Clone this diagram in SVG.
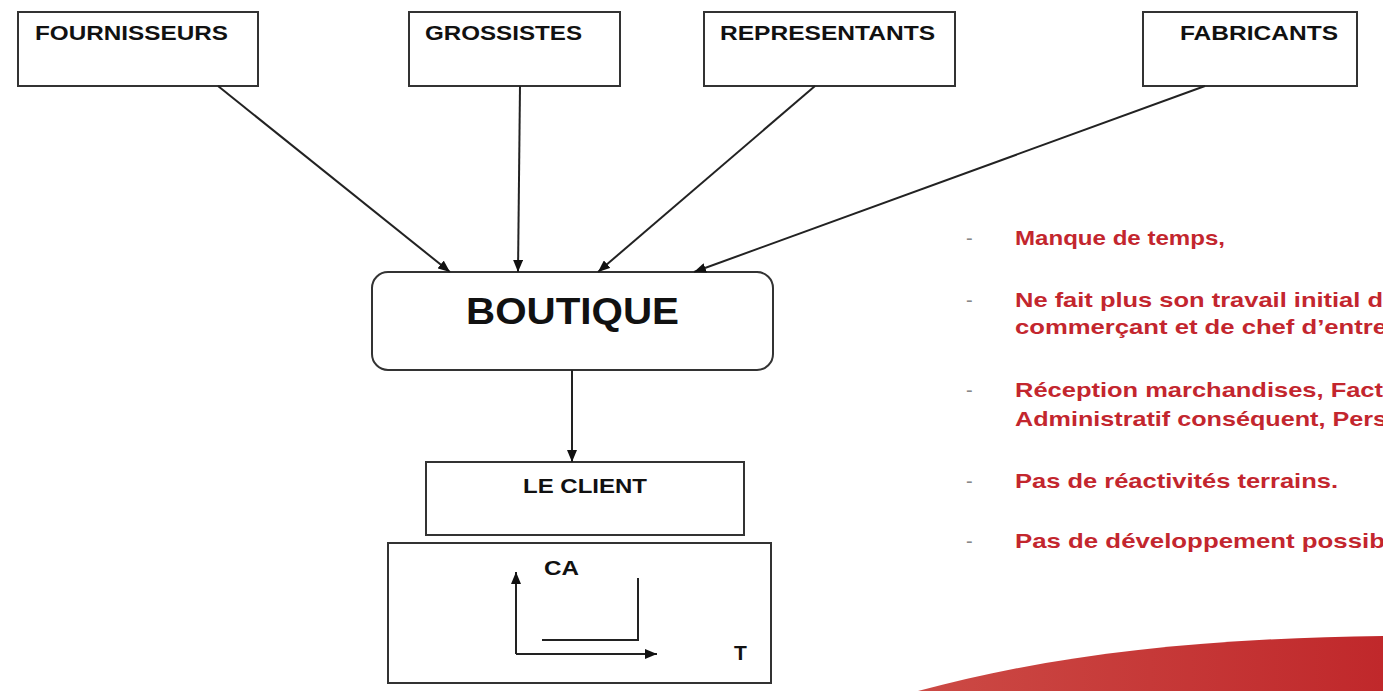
<svg xmlns="http://www.w3.org/2000/svg" width="1383" height="691" viewBox="0 0 1383 691">
<style>
.box{fill:#fff;stroke:#333;stroke-width:2}
.lbl{font-family:"Liberation Sans",Arial,sans-serif;font-weight:bold;fill:#111}
.conn{stroke:#222;stroke-width:2;fill:none}
.red{font-family:"Liberation Sans",Arial,sans-serif;font-weight:bold;font-size:21px;fill:#c3262e}
.dash{font-family:"Liberation Sans",Arial,sans-serif;font-size:20px;fill:#888}
</style>
<defs>
<marker id="arr" viewBox="0 0 12 10" refX="12" refY="5" markerWidth="12" markerHeight="10" markerUnits="userSpaceOnUse" orient="auto">
<path d="M0,0 L12,5 L0,10 z" fill="#111"/>
</marker>
<linearGradient id="sw" x1="0" y1="0" x2="1" y2="0">
<stop offset="0" stop-color="#cc4a45"/>
<stop offset="1" stop-color="#c0282b"/>
</linearGradient>
</defs>
<rect width="1383" height="691" fill="#fff"/>
<path d="M918,691 C1050,655 1200,638 1383,636 L1383,691 Z" fill="url(#sw)"/>
<g id="fournisseurs"><rect class="box" x="18" y="12" width="240" height="74"/><text class="lbl" x="35" y="40" font-size="21" textLength="193" lengthAdjust="spacingAndGlyphs">FOURNISSEURS</text></g>
<g id="grossistes"><rect class="box" x="409" y="12" width="211" height="74"/><text class="lbl" x="425" y="40" font-size="21" textLength="157" lengthAdjust="spacingAndGlyphs">GROSSISTES</text></g>
<g id="representants"><rect class="box" x="704" y="12" width="251" height="74"/><text class="lbl" x="720" y="40" font-size="21" textLength="215" lengthAdjust="spacingAndGlyphs">REPRESENTANTS</text></g>
<g id="fabricants"><rect class="box" x="1143" y="12" width="214" height="74"/><text class="lbl" x="1180" y="40" font-size="21" textLength="158" lengthAdjust="spacingAndGlyphs">FABRICANTS</text></g>
<g id="boutique"><rect class="box" x="372" y="272" width="401" height="98" rx="16"/><text class="lbl" x="466" y="324" font-size="37" textLength="213" lengthAdjust="spacingAndGlyphs">BOUTIQUE</text></g>
<g id="client"><rect class="box" x="426" y="462" width="318" height="73"/><text class="lbl" x="523" y="493" font-size="21" textLength="124" lengthAdjust="spacingAndGlyphs">LE CLIENT</text></g>
<g id="chart"><rect class="box" x="388" y="543" width="383" height="140"/>
<text class="lbl" x="544" y="575" font-size="21" textLength="35" lengthAdjust="spacingAndGlyphs">CA</text>
<text class="lbl" x="734" y="660" font-size="21">T</text>
<path class="conn" d="M516,654 V572" marker-end="url(#arr)"/>
<path class="conn" d="M516,654 H657" marker-end="url(#arr)"/>
<path class="conn" d="M542,640 H638 V578"/>
</g>
<g id="connectors">
<path class="conn" d="M218,86 L450,272" marker-end="url(#arr)"/>
<path class="conn" d="M520,86 L518,272" marker-end="url(#arr)"/>
<path class="conn" d="M815,86 L598,272" marker-end="url(#arr)"/>
<path class="conn" d="M1205,86 L694,272" marker-end="url(#arr)"/>
<path class="conn" d="M572,370 L572,462" marker-end="url(#arr)"/>
</g>
<g id="notes">
<text class="dash" x="966" y="245">-</text><text class="red" x="1015" y="245" textLength="210" lengthAdjust="spacingAndGlyphs">Manque de temps,</text>
<text class="dash" x="966" y="307">-</text><text class="red" x="1015" y="307" textLength="368" lengthAdjust="spacingAndGlyphs">Ne fait plus son travail initial d</text>
<text class="red" x="1015" y="334" textLength="372" lengthAdjust="spacingAndGlyphs">commerçant et de chef d’entre</text>
<text class="dash" x="966" y="397">-</text><text class="red" x="1015" y="397" textLength="368" lengthAdjust="spacingAndGlyphs">Réception marchandises, Fact</text>
<text class="red" x="1015" y="426" textLength="372" lengthAdjust="spacingAndGlyphs">Administratif conséquent, Pers</text>
<text class="dash" x="966" y="488">-</text><text class="red" x="1015" y="488" textLength="323" lengthAdjust="spacingAndGlyphs">Pas de réactivités terrains.</text>
<text class="dash" x="966" y="548">-</text><text class="red" x="1015" y="548" textLength="370" lengthAdjust="spacingAndGlyphs">Pas de développement possib</text>
</g>
</svg>
